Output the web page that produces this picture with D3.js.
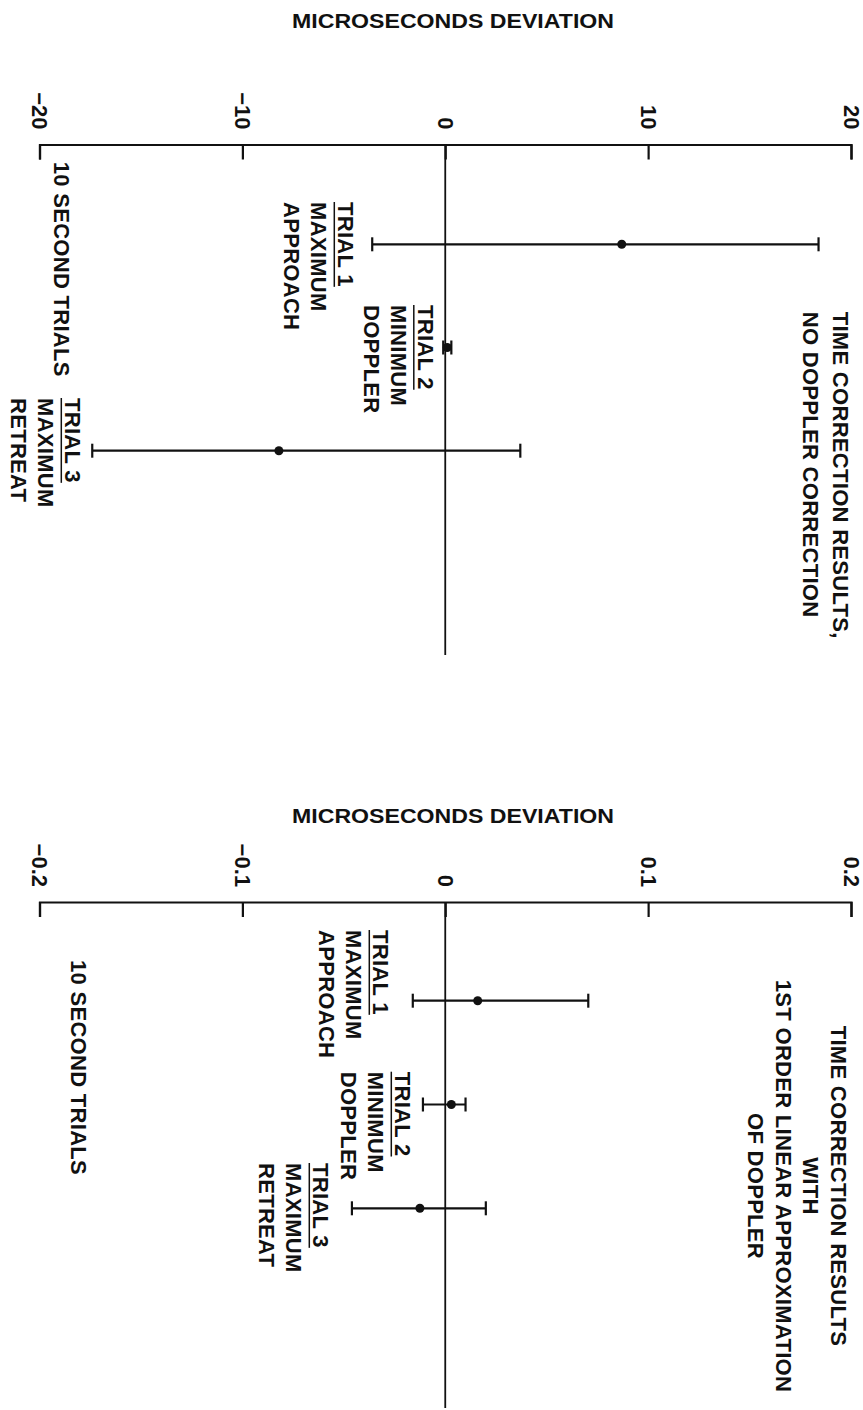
<!DOCTYPE html>
<html>
<head>
<meta charset="utf-8">
<script src="https://cdn.jsdelivr.net/npm/d3@7"></script>
<style>
  body { margin: 0; background: #fff; }
  svg { display: block; background: #fff; }
  text { font-family: "Liberation Sans", Arial, Helvetica, sans-serif; fill: #111; }
</style>
</head>
<body>
<div id="chart"></div>
<script>
// values (microseconds)
const trialNames = ["TRIAL 1", "TRIAL 2", "TRIAL 3"];
const trialNotes = [["MAXIMUM", "APPROACH"], ["MINIMUM", "DOPPLER"], ["MAXIMUM", "RETREAT"]];

const ticksTop = [-20, -10, 0, 10, 20];
const tickLabelsTop = ["−20", "−10", "0", "10", "20"];
const noDopplerMean = [8.7, 0.1, -8.2];
const noDopplerLow = [-3.6, -0.1, -17.4];
const noDopplerHigh = [18.4, 0.3, 3.7];

const ticksBottom = [-0.2, -0.1, 0, 0.1, 0.2];
const tickLabelsBottom = ["−0.2", "−0.1", "0", "0.1", "0.2"];
const linearMean = [0.016, 0.003, -0.0125];
const linearLow = [-0.016, -0.011, -0.046];
const linearHigh = [0.0705, 0.010, 0.020];

const axisTitle = "MICROSECONDS DEVIATION";
const footNote = "10 SECOND TRIALS";
const titleTop = ["TIME CORRECTION RESULTS,", "NO DOPPLER CORRECTION"];
const titleBottom = ["TIME CORRECTION RESULTS", "WITH", "1ST ORDER LINEAR APPROXIMATION", "OF DOPPLER"];

const width = 863, height = 1410;
const fs = 22;

const svg = d3.select("#chart").append("svg")
    .attr("width", width)
    .attr("height", height);

// layout of each panel, kept apart from the values
const panels = [
    {
        ticks: ticksTop, tickLabels: tickLabelsTop,
        mean: noDopplerMean, low: noDopplerLow, high: noDopplerHigh,
        axisY: 144.5, titleY: 28.3, trialRange: [244.3, 450.7], zeroEnd: 655,
        notePos: [[346, 202], [425.5, 305], [73, 398]],
        footPos: [62, 161.7],
        title: titleTop, titleX: 841, titleY2: 311.7, titleStep: 30, titleAnchor: "start"
    },
    {
        ticks: ticksBottom, tickLabels: tickLabelsBottom,
        mean: linearMean, low: linearLow, high: linearHigh,
        axisY: 902, titleY: 823.3, trialRange: [1000.7, 1208.3], zeroEnd: 1408,
        notePos: [[381, 930], [403, 1071.7], [321, 1163]],
        footPos: [78.5, 960],
        title: titleBottom, titleX: 838.5, titleY2: 1186, titleStep: 27.5, titleAnchor: "middle"
    }
];

// text turned a quarter clockwise, centred on cx
function vtext(g, str, cx, y, anchor) {
    return g.append("text")
        .attr("transform", `translate(${cx},${y}) rotate(90)`)
        .attr("dy", "0.35em")
        .attr("text-anchor", anchor)
        .style("font-size", fs + "px")
        .style("font-weight", "bold")
        .style("letter-spacing", "0.3px")
        .text(str);
}

panels.forEach(p => {
    const g = svg.append("g");
    const ext = d3.extent(p.ticks);

    const x = d3.scaleLinear().domain(ext).range([39.5, 851]);
    const y = d3.scalePoint().domain(trialNames).range(p.trialRange);

    g.append("text")
        .attr("x", 453)
        .attr("y", p.titleY)
        .attr("text-anchor", "middle")
        .attr("textLength", 322)
        .attr("lengthAdjust", "spacingAndGlyphs")
        .style("font-size", "21px")
        .style("font-weight", "bold")
        .text(axisTitle);

    // value axis along the top, ticks hanging down
    const axis = d3.axisBottom(x)
        .tickValues(p.ticks)
        .tickFormat((d, i) => p.tickLabels[i])
        .tickSize(15)
        .tickSizeOuter(15);

    const ax = g.append("g")
        .attr("transform", `translate(0,${p.axisY})`)
        .call(axis);

    ax.select(".domain").attr("stroke", "#111").attr("stroke-width", 2.2);
    ax.selectAll(".tick line").attr("stroke", "#111").attr("stroke-width", 2.2);
    ax.selectAll(".tick text")
        .attr("transform", "rotate(90)")
        .attr("x", -15)
        .attr("y", 0)
        .attr("dy", "0.35em")
        .attr("text-anchor", "end")
        .attr("fill", "#111")
        .style("font-size", "22px")
        .style("font-weight", "bold")
        .style("font-family", '"Liberation Sans", Arial, sans-serif');

    // zero reference line
    g.append("line")
        .attr("x1", x(0)).attr("x2", x(0))
        .attr("y1", p.axisY).attr("y2", p.zeroEnd)
        .attr("stroke", "#111")
        .attr("stroke-width", 1.8);

    // error bars
    const bars = g.selectAll(".bar")
        .data(trialNames)
        .enter().append("g")
            .attr("class", "bar")
            .attr("transform", d => `translate(0,${y(d)})`);

    bars.append("line")
        .attr("x1", (d, i) => x(p.low[i]))
        .attr("x2", (d, i) => x(p.high[i]))
        .attr("stroke", "#111")
        .attr("stroke-width", 2.2);

    [p.low, p.high].forEach(arr => {
        bars.append("line")
            .attr("x1", (d, i) => x(arr[i]))
            .attr("x2", (d, i) => x(arr[i]))
            .attr("y1", -7).attr("y2", 7)
            .attr("stroke", "#111")
            .attr("stroke-width", 2.2);
    });

    bars.append("circle")
        .attr("cx", (d, i) => x(p.mean[i]))
        .attr("r", 4.5)
        .attr("fill", "#111");

    // trial notes
    trialNames.forEach((name, i) => {
        const [cx, y0] = p.notePos[i];
        const t = vtext(g, name, cx, y0, "start");
        const len = t.node().getComputedTextLength();
        g.append("line")
            .attr("x1", cx - 0.35 * fs - 4).attr("x2", cx - 0.35 * fs - 4)
            .attr("y1", y0).attr("y2", y0 + len)
            .attr("stroke", "#111")
            .attr("stroke-width", 1.5);
        trialNotes[i].forEach((note, j) => {
            vtext(g, note, cx - 27 * (j + 1), y0, "start");
        });
    });

    vtext(g, footNote, p.footPos[0], p.footPos[1], "start");

    p.title.forEach((line, j) => {
        vtext(g, line, p.titleX - p.titleStep * j, p.titleY2, p.titleAnchor);
    });
});
</script>
</body>
</html>
